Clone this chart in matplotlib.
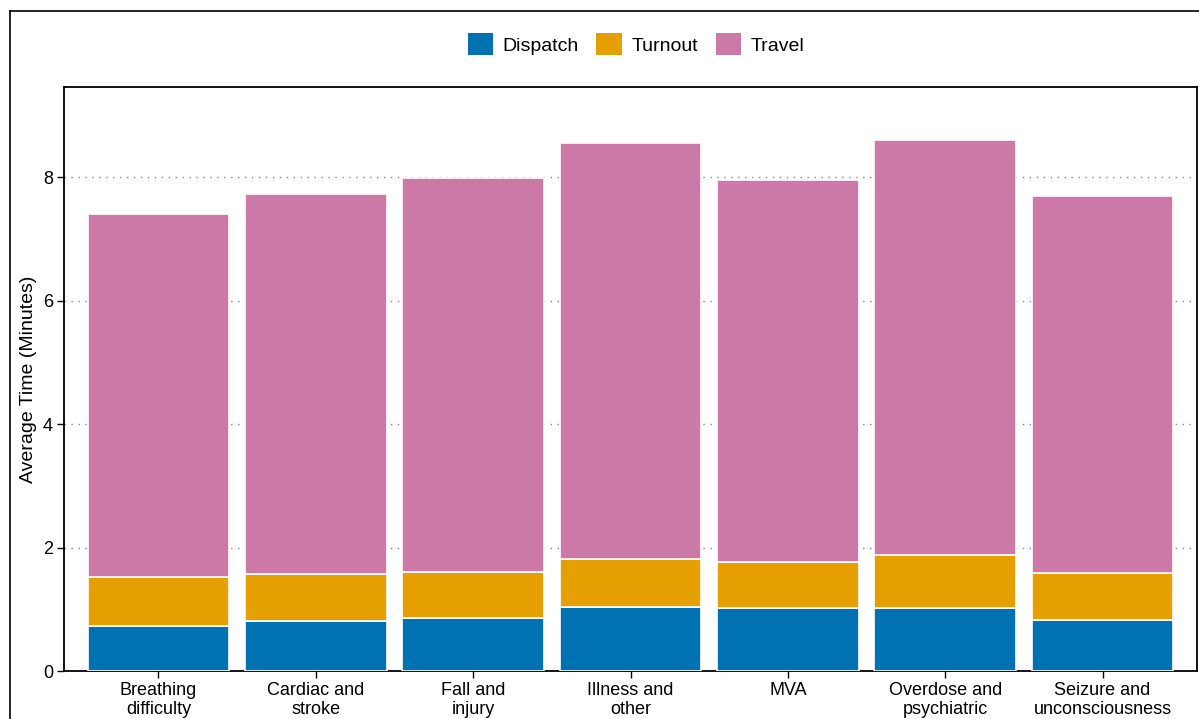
import numpy as np
import matplotlib
matplotlib.use("Agg")
import matplotlib.pyplot as plt
from matplotlib.patches import Patch
from matplotlib.lines import Line2D

plt.rcParams['font.family'] = ['Liberation Sans', 'DejaVu Sans']

categories = ["Breathing\ndifficulty", "Cardiac and\nstroke", "Fall and\ninjury",
              "Illness and\nother", "MVA", "Overdose and\npsychiatric",
              "Seizure and\nunconsciousness"]
dispatch = [0.73, 0.81, 0.86, 1.04, 1.02, 1.02, 0.83]
turnout = [0.79, 0.76, 0.74, 0.77, 0.75, 0.86, 0.76]
travel = [5.88, 6.15, 6.38, 6.74, 6.18, 6.72, 6.10]

series = ["Dispatch", "Turnout", "Travel"]
colors = ["#0072B2", "#E69F00", "#CC79A7"]

W, H = 1199, 719
fig = plt.figure(figsize=(W / 100, H / 100), dpi=100)
ax = fig.add_axes([64 / W, 1 - 671 / H, (1197 - 64) / W, (671 - 87) / H])

x = np.arange(len(categories))
bottom = np.zeros(len(categories))
for vals, c in zip([dispatch, turnout, travel], colors):
    ax.bar(x, vals, bottom=bottom, width=0.9, color=c, edgecolor="white",
           linewidth=1.2, zorder=3)
    bottom += np.array(vals)

ax.set_xlim(-0.6, len(categories) - 0.4)
ax.set_ylim(0, 9.46)
ax.set_yticks([0, 2, 4, 6, 8])
ax.yaxis.grid(True, linestyle=(0, (1, 4)), color="#888888", linewidth=1.0, zorder=0)
ax.set_axisbelow(True)

ax.set_xticks(x)
ax.set_xticklabels(categories, fontsize=13, linespacing=1.15)
ax.tick_params(axis="both", direction="out", length=5, width=1, colors="black",
               labelsize=13, labelcolor="black", pad=3)
ax.set_ylabel("Average Time (Minutes)", fontsize=14, labelpad=4)
for s in ax.spines.values():
    s.set_linewidth(1.3)
    s.set_color("black")

# legend on top
handles = [Patch(facecolor=c, edgecolor="none", label=l) for c, l in zip(colors, series)]
fig.legend(handles=handles, loc="center", bbox_to_anchor=(636 / W, 1 - 44 / H),
           ncol=3, frameon=False, fontsize=14, handlelength=1.3, handleheight=1.3,
           handletextpad=0.5, columnspacing=0.9)

# outer frame
fig.add_artist(Line2D([10 / W, 10 / W], [0, 1 - 11 / H], color="black", linewidth=1.2))
fig.add_artist(Line2D([10 / W, 1], [1 - 11 / H, 1 - 11 / H], color="black", linewidth=1.2))

fig.savefig("out.png", dpi=100)
